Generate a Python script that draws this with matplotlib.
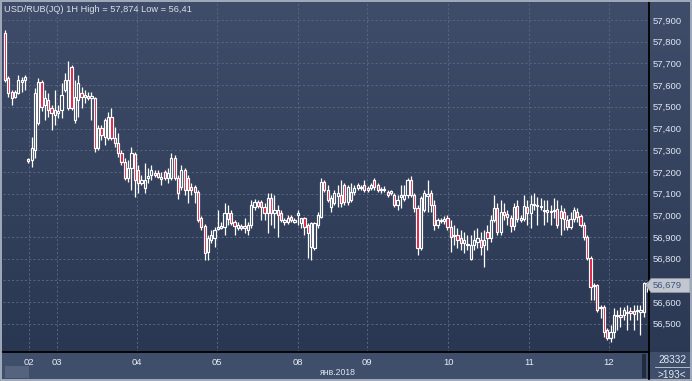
import matplotlib
matplotlib.use('Agg')
import matplotlib.pyplot as plt
import numpy as np
from matplotlib.patches import Rectangle, Polygon
from matplotlib.ticker import FuncFormatter

plt.rcParams['font.family'] = ['Liberation Sans', 'DejaVu Sans']

# ---------------- data (USD/RUB hourly candles) ----------------
opens = [57.840, 57.633, 57.568, 57.545, 57.564, 57.614, 57.624, 57.260, 57.255, 57.301,
         57.425, 57.614, 57.508, 57.531, 57.494, 57.462, 57.471, 57.485, 57.577, 57.494,
         57.683, 57.439, 57.531, 57.564, 57.545, 57.550, 57.541, 57.541, 57.310, 57.402,
         57.361, 57.356, 57.453, 57.356, 57.333, 57.287, 57.246, 57.172, 57.218, 57.283,
         57.209, 57.149, 57.126, 57.172, 57.186, 57.186, 57.195, 57.167, 57.200, 57.172,
         57.172, 57.264, 57.172, 57.130, 57.209, 57.172, 57.130, 57.130, 57.107, 56.988,
         56.951, 56.831, 56.886, 56.895, 56.937, 56.942, 56.946, 56.983, 57.011, 56.969,
         56.942, 56.942, 56.951, 56.932, 56.955, 57.038, 57.061, 57.061, 57.038, 57.011,
         57.080, 57.011, 57.024, 57.011, 56.969, 56.969, 56.992, 56.969, 57.001, 56.965,
         56.988, 56.955, 56.854, 56.849, 56.955, 56.992, 57.154, 57.117, 57.038, 57.057,
         57.089, 57.094, 57.140, 57.061, 57.071, 57.107, 57.126, 57.126, 57.140, 57.117,
         57.126, 57.163, 57.140, 57.117, 57.117, 57.107, 57.103, 57.094, 57.048, 57.084,
         57.075, 57.094, 57.163, 57.094, 57.034, 56.849, 57.024, 57.089, 57.103, 57.048,
         56.955, 56.974, 56.974, 56.988, 56.946, 56.905, 56.909, 56.895, 56.872, 56.863,
         56.799, 56.863, 56.877, 56.886, 56.863, 56.923, 56.895, 56.978, 57.034, 56.923,
         57.015, 57.006, 56.988, 56.951, 57.043, 56.978, 56.983, 57.038, 57.011, 57.048,
         57.043, 57.043, 57.020, 57.024, 57.015, 57.020, 57.029, 57.020, 57.015, 56.978,
         56.946, 56.983, 57.015, 56.997, 56.955, 56.900, 56.803, 56.674, 56.679, 56.573,
         56.578, 56.471, 56.435, 56.462, 56.536, 56.541, 56.541, 56.550, 56.559, 56.559,
         56.559, 56.554, 56.554, 56.688]
highs = [57.854, 57.642, 57.577, 57.577, 57.647, 57.637, 57.647, 57.264, 57.361, 57.587,
         57.633, 57.624, 57.577, 57.564, 57.508, 57.577, 57.508, 57.610, 57.656, 57.711,
         57.693, 57.624, 57.647, 57.591, 57.577, 57.568, 57.568, 57.545, 57.416, 57.416,
         57.448, 57.476, 57.494, 57.407, 57.379, 57.301, 57.264, 57.255, 57.315, 57.292,
         57.232, 57.186, 57.241, 57.218, 57.232, 57.209, 57.209, 57.200, 57.209, 57.218,
         57.287, 57.278, 57.186, 57.232, 57.218, 57.186, 57.149, 57.140, 57.117, 56.997,
         56.960, 56.909, 56.932, 56.946, 57.024, 56.969, 57.057, 57.048, 57.024, 56.978,
         56.969, 56.960, 56.988, 56.969, 57.071, 57.075, 57.071, 57.071, 57.057, 57.103,
         57.103, 57.094, 57.048, 57.024, 56.988, 57.001, 57.001, 56.988, 57.024, 56.988,
         56.992, 56.965, 56.969, 56.969, 57.015, 57.172, 57.163, 57.140, 57.094, 57.117,
         57.140, 57.163, 57.149, 57.140, 57.149, 57.140, 57.149, 57.140, 57.163, 57.135,
         57.149, 57.172, 57.149, 57.130, 57.135, 57.117, 57.117, 57.103, 57.094, 57.140,
         57.140, 57.172, 57.181, 57.103, 57.048, 57.089, 57.117, 57.163, 57.117, 57.071,
         56.988, 56.988, 56.997, 57.001, 56.978, 56.955, 56.942, 56.932, 56.923, 56.909,
         56.909, 56.932, 56.942, 56.923, 56.932, 56.955, 57.001, 57.094, 57.057, 57.071,
         57.057, 57.024, 57.001, 57.057, 57.071, 57.001, 57.094, 57.071, 57.094, 57.103,
         57.084, 57.080, 57.071, 57.071, 57.048, 57.080, 57.071, 57.048, 57.034, 57.001,
         57.015, 57.038, 57.034, 57.006, 56.969, 56.909, 56.813, 56.688, 56.683, 56.587,
         56.587, 56.481, 56.495, 56.573, 56.564, 56.578, 56.578, 56.587, 56.578, 56.587,
         56.587, 56.587, 56.693, 56.693]
lows = [57.614, 57.545, 57.508, 57.541, 57.559, 57.568, 57.577, 57.241, 57.223, 57.264,
        57.416, 57.481, 57.439, 57.453, 57.393, 57.416, 57.448, 57.448, 57.568, 57.485,
        57.485, 57.425, 57.453, 57.494, 57.518, 57.531, 57.439, 57.292, 57.301, 57.347,
        57.324, 57.347, 57.347, 57.315, 57.269, 57.232, 57.163, 57.154, 57.117, 57.084,
        57.103, 57.140, 57.103, 57.149, 57.163, 57.177, 57.172, 57.140, 57.163, 57.149,
        57.163, 57.163, 57.075, 57.117, 57.094, 57.057, 57.094, 57.057, 56.969, 56.932,
        56.794, 56.794, 56.872, 56.854, 56.932, 56.937, 56.909, 56.955, 56.955, 56.909,
        56.932, 56.932, 56.918, 56.909, 56.942, 57.024, 57.034, 56.978, 56.978, 56.918,
        56.955, 56.942, 56.900, 56.969, 56.955, 56.960, 56.969, 56.965, 56.955, 56.942,
        56.909, 56.803, 56.794, 56.840, 56.942, 56.988, 57.107, 57.061, 57.015, 57.048,
        57.038, 57.038, 57.048, 57.048, 57.061, 57.094, 57.117, 57.117, 57.107, 57.107,
        57.117, 57.117, 57.107, 57.103, 57.107, 57.084, 57.094, 57.038, 57.024, 57.034,
        57.066, 57.080, 57.084, 57.015, 56.817, 56.840, 57.015, 57.015, 57.015, 56.932,
        56.942, 56.965, 56.960, 56.932, 56.831, 56.863, 56.849, 56.840, 56.826, 56.840,
        56.794, 56.840, 56.849, 56.817, 56.762, 56.840, 56.877, 56.969, 56.909, 56.909,
        56.978, 56.955, 56.923, 56.932, 56.969, 56.969, 56.974, 56.955, 56.942, 57.024,
        56.955, 57.024, 56.955, 56.969, 56.955, 56.988, 56.942, 56.909, 56.932, 56.932,
        56.937, 56.969, 56.969, 56.946, 56.886, 56.794, 56.610, 56.610, 56.554, 56.527,
        56.439, 56.425, 56.416, 56.435, 56.471, 56.486, 56.518, 56.471, 56.518, 56.471,
        56.518, 56.449, 56.532, 56.647]
closes = [57.624, 57.564, 57.541, 57.568, 57.624, 57.624, 57.637, 57.250, 57.310, 57.564,
          57.614, 57.499, 57.541, 57.485, 57.471, 57.485, 57.481, 57.554, 57.624, 57.624,
          57.494, 57.545, 57.610, 57.545, 57.554, 57.541, 57.550, 57.310, 57.402, 57.370,
          57.439, 57.453, 57.356, 57.333, 57.287, 57.246, 57.172, 57.218, 57.287, 57.163,
          57.149, 57.163, 57.163, 57.181, 57.209, 57.195, 57.177, 57.177, 57.172, 57.195,
          57.264, 57.172, 57.103, 57.209, 57.117, 57.117, 57.117, 57.107, 56.978, 56.946,
          56.826, 56.895, 56.909, 56.932, 56.946, 56.951, 57.011, 57.011, 56.965, 56.951,
          56.955, 56.951, 56.942, 56.955, 57.048, 57.061, 57.043, 57.038, 57.011, 57.080,
          57.011, 57.024, 57.001, 56.978, 56.978, 56.988, 56.978, 56.978, 57.011, 56.988,
          56.946, 56.918, 56.965, 56.965, 57.001, 57.154, 57.117, 57.071, 57.080, 57.103,
          57.103, 57.057, 57.061, 57.130, 57.107, 57.126, 57.140, 57.130, 57.117, 57.126,
          57.140, 57.130, 57.117, 57.121, 57.121, 57.094, 57.112, 57.048, 57.071, 57.094,
          57.094, 57.163, 57.094, 57.034, 56.849, 57.080, 57.103, 57.098, 57.048, 56.955,
          56.978, 56.978, 56.983, 56.946, 56.900, 56.909, 56.886, 56.872, 56.886, 56.868,
          56.863, 56.886, 56.895, 56.854, 56.886, 56.895, 56.978, 57.034, 56.923, 57.015,
          57.001, 56.992, 56.951, 57.038, 56.983, 56.988, 57.043, 57.011, 57.052, 57.052,
          57.048, 57.038, 57.024, 57.015, 57.020, 57.024, 56.955, 56.988, 56.983, 56.946,
          56.983, 57.024, 56.992, 56.955, 56.900, 56.803, 56.670, 56.679, 56.564, 56.578,
          56.462, 56.435, 56.462, 56.541, 56.541, 56.532, 56.564, 56.554, 56.550, 56.545,
          56.564, 56.564, 56.688, 56.679]

day_labels = ['02', '03', '04', '05', '08', '09', '10', '11', '12']
day_start_bars = [7.2, 15.6, 39.7, 63.7, 88.1, 108.8, 133.2, 157.5, 181.5]
price_ticks = [56.5, 56.6, 56.7, 56.8, 56.9, 57.0, 57.1, 57.2, 57.3, 57.4, 57.5, 57.6, 57.7, 57.8, 57.9]
last_price = 56.679
title_text = 'USD/RUB(JQ) 1H High = 57,874 Low = 56,41'
last_price_text = '56,679'
month_text = 'янв.2018'
counter_top = '28332'
counter_bottom = '>193<'

# ---------------- figure ----------------
W, H = 692, 381
fig = plt.figure(figsize=(W / 100, H / 100), dpi=100)

# background gradient
bg = fig.add_axes([0, 0, 1, 1], zorder=0)
bg.set_xlim(0, W)
bg.set_ylim(H, 0)
bg.axis('off')
top = np.array([0x40, 0x4d, 0x6a]) / 255
bot = np.array([0x2a, 0x37, 0x52]) / 255
t = np.linspace(0, 1, 256)[:, None]
grad = top[None, :] * (1 - t) + bot[None, :] * t
bg.imshow(grad[:, None, :], extent=[0, W, 352, 0], aspect='auto', zorder=0)
bg.imshow(grad[:, None, :], extent=[649, W, 381, 0], aspect='auto', zorder=0)
bg.add_patch(Rectangle((0, 352), 649, 29, facecolor='#3f4e6b', edgecolor='none', zorder=1))
bg.add_patch(Rectangle((650, 352), 42, 29, facecolor='#3f4e6b', edgecolor='none', zorder=1))
bg.add_patch(Rectangle((5, 366), 24, 12, facecolor='#55637f', edgecolor='none', zorder=2))
bg.add_patch(Rectangle((642, 354), 4, 24, facecolor='#202b40', edgecolor='none', zorder=2))

# main axes
ax = fig.add_axes([3 / W, (H - 352) / H, 646 / W, 351 / H], zorder=2)
ax.patch.set_alpha(0)
n = len(closes)
xs = np.arange(n)
o = np.array(opens); c = np.array(closes); hi = np.array(highs); lo = np.array(lows)

for v in price_ticks:
    ax.axhline(v, color='#58657f', lw=0.7, ls=(0, (2.2, 2.2)), zorder=1)
for d in day_start_bars:
    ax.axvline(d, color='#58657f', lw=0.7, ls=(0, (2.2, 2.2)), zorder=1)

ax.vlines(xs, lo, hi, color='white', lw=0.9, zorder=2)
bottoms = np.minimum(o, c)
heights = np.maximum(np.abs(c - o), 0.004)
faces = np.where(c < o, '#e0183c', '#34415d')
ax.bar(xs, heights, bottom=bottoms, width=0.66, color=faces, edgecolor='white',
       linewidth=0.85, zorder=3)

ax.set_xlim(-0.6, 193.57)
ax.set_ylim(56.370, 57.9876)
for s in ['left', 'top']:
    ax.spines[s].set_visible(False)
for s in ['right', 'bottom']:
    ax.spines[s].set_color('black')
    ax.spines[s].set_linewidth(1.3)

# the 56,700 label is hidden behind the last-price marker, as in the reference
visible_ticks = [v for v in price_ticks if abs(v - last_price) > 0.04]
ax.yaxis.tick_right()
ax.set_yticks(visible_ticks)
ax.yaxis.set_major_formatter(FuncFormatter(lambda v, p: f"{v:.3f}".replace('.', ',')))
ax.tick_params(axis='y', length=0, pad=3, labelsize=6.8, labelcolor='#dfe6f2')
ax.set_xticks(day_start_bars)
ax.set_xticklabels(day_labels)
ax.tick_params(axis='x', length=0, pad=4, labelsize=6.8, labelcolor='#e8edf5')

# overlay
ov = fig.add_axes([0, 0, 1, 1], zorder=10)
ov.set_xlim(0, W)
ov.set_ylim(H, 0)
ov.axis('off')
ov.text(4, 9, title_text, fontsize=6.7, color='#d9dfea', va='center', ha='left')
ov.add_patch(Polygon([(646, 285.5), (651, 278.5), (690, 278.5), (690, 292.5), (651, 292.5)],
                     closed=True, facecolor='#c2c6ce', edgecolor='#8e96a6', lw=0.6))
ov.text(653, 285.7, last_price_text, fontsize=6.8, color='#3d5684', va='center', ha='left')
ov.text(338, 372.5, month_text, fontsize=6.2, color='#dfe6f2', va='center', ha='center')
ov.text(672, 360, counter_top, fontsize=7.2, color='#e3e9f3', va='center', ha='center')
ov.plot([655, 689], [367, 367], color='#c6ced9', lw=0.6)
ov.text(672, 374.5, counter_bottom, fontsize=7.2, color='#e3e9f3', va='center', ha='center')
ov.plot([649.3, 649.3], [352, 379], color='black', lw=1.3)
ov.add_patch(Rectangle((0.6, 0.6), W - 1.2, H - 1.2, facecolor='none', edgecolor='#aab3c2', lw=1.3))

fig.savefig('out.png', dpi=100)
